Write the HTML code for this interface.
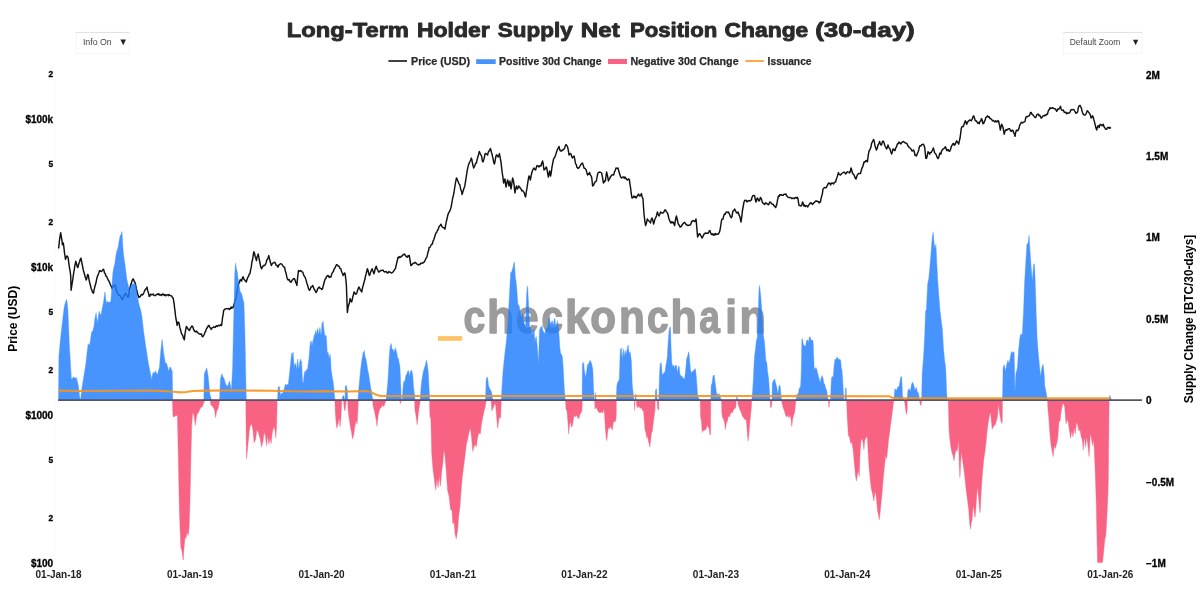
<!DOCTYPE html>
<html lang="en"><head><meta charset="utf-8"><title>Long-Term Holder Supply Net Position Change (30-day)</title>
<style>
html,body{margin:0;padding:0;background:#fff;}
body{width:1200px;height:605px;overflow:hidden;font-family:"Liberation Sans",sans-serif;}
svg{display:block;}
svg text{font-family:"Liberation Sans",sans-serif;}
</style></head><body>
<svg width="1200" height="605" viewBox="0 0 1200 605">
<defs><filter id="ga" x="-5%" y="-5%" width="110%" height="110%" color-interpolation-filters="sRGB"><feOffset dx="0" dy="0"/></filter></defs>
<rect x="0" y="0" width="1200" height="605" fill="#ffffff"/>

<g opacity="1" filter="url(#ga)"><rect x="438" y="336.1" width="24.2" height="4.7" fill="#ffc266"/>
<text transform="translate(463.61,333.3) scale(0.844,1)" font-size="46.5" font-weight="bold" fill="#9c9c9c" stroke="#9c9c9c" stroke-width="1.4" stroke-linejoin="round">c</text>
<text transform="translate(487.01,333.3) scale(0.951,1)" font-size="46.5" font-weight="bold" fill="#9c9c9c" stroke="#9c9c9c" stroke-width="1.4" stroke-linejoin="round">h</text>
<text transform="translate(515.89,333.3) scale(0.872,1)" font-size="46.5" font-weight="bold" fill="#9c9c9c" stroke="#9c9c9c" stroke-width="1.4" stroke-linejoin="round">e</text>
<text transform="translate(541.42,333.3) scale(0.832,1)" font-size="46.5" font-weight="bold" fill="#9c9c9c" stroke="#9c9c9c" stroke-width="1.4" stroke-linejoin="round">c</text>
<text transform="translate(565.01,333.3) scale(0.953,1)" font-size="46.5" font-weight="bold" fill="#9c9c9c" stroke="#9c9c9c" stroke-width="1.4" stroke-linejoin="round">k</text>
<text transform="translate(590.37,333.3) scale(0.908,1)" font-size="46.5" font-weight="bold" fill="#9c9c9c" stroke="#9c9c9c" stroke-width="1.4" stroke-linejoin="round">o</text>
<text transform="translate(619.10,333.3) scale(0.910,1)" font-size="46.5" font-weight="bold" fill="#9c9c9c" stroke="#9c9c9c" stroke-width="1.4" stroke-linejoin="round">n</text>
<text transform="translate(646.92,333.3) scale(0.832,1)" font-size="46.5" font-weight="bold" fill="#9c9c9c" stroke="#9c9c9c" stroke-width="1.4" stroke-linejoin="round">c</text>
<text transform="translate(670.56,333.3) scale(0.930,1)" font-size="46.5" font-weight="bold" fill="#9c9c9c" stroke="#9c9c9c" stroke-width="1.4" stroke-linejoin="round">h</text>
<text transform="translate(699.32,333.3) scale(0.797,1)" font-size="46.5" font-weight="bold" fill="#9c9c9c" stroke="#9c9c9c" stroke-width="1.4" stroke-linejoin="round">a</text>
<text transform="translate(725.30,333.3) scale(0.907,1)" font-size="46.5" font-weight="bold" fill="#9c9c9c" stroke="#9c9c9c" stroke-width="1.4" stroke-linejoin="round">i</text>
<text transform="translate(739.56,333.3) scale(0.930,1)" font-size="46.5" font-weight="bold" fill="#9c9c9c" stroke="#9c9c9c" stroke-width="1.4" stroke-linejoin="round">n</text>
</g>
<polyline points="58.7,247.9 59.5,240.0 60.1,236.0 60.7,232.8 61.5,238.0 62.0,240.7 62.4,244.8 62.8,244.2 63.3,243.0 63.9,247.1 64.5,253.0 65.0,256.2 65.5,259.3 66.2,257.4 66.8,256.0 67.5,256.2 68.2,258.2 68.8,263.1 69.5,268.0 70.1,271.0 70.7,275.8 71.1,290.2 71.9,285.0 72.7,280.0 73.5,274.1 74.2,270.0 75.0,264.8 75.8,261.3 76.3,263.0 76.8,265.0 77.3,266.9 77.9,267.5 78.7,264.0 79.5,262.0 80.2,259.5 81.0,258.2 81.8,262.4 82.5,266.0 83.3,270.2 84.1,272.7 84.7,275.0 85.2,277.0 85.7,278.3 86.2,280.0 86.7,279.0 87.2,276.0 87.7,274.5 88.2,274.8 89.0,279.6 89.8,283.0 90.5,285.7 91.3,289.2 91.8,289.9 92.4,292.0 92.9,291.9 93.4,293.3 94.2,289.3 95.0,286.0 95.8,283.6 96.5,280.0 97.2,276.9 98.0,275.0 98.8,273.0 99.6,270.6 100.2,271.2 100.9,270.9 101.5,271.5 102.4,270.4 103.3,269.2 103.9,270.2 104.5,273.0 105.2,273.5 105.8,275.8 106.5,276.3 107.3,278.0 108.1,279.9 108.9,281.0 109.7,282.9 110.5,285.0 111.2,286.2 112.0,288.2 112.8,287.3 113.5,286.0 114.3,285.5 115.1,285.1 115.8,287.6 116.6,291.0 117.4,293.3 118.2,294.4 118.9,295.3 119.5,295.0 120.2,296.0 120.9,297.3 121.6,298.4 122.3,299.5 123.0,298.5 123.8,296.0 124.6,295.1 125.4,293.3 126.2,294.2 127.0,296.0 127.8,297.2 128.5,296.4 129.0,292.4 129.5,290.0 130.1,287.4 130.6,285.1 131.3,283.6 132.0,281.0 132.7,279.3 133.3,278.9 133.9,280.4 134.5,282.0 135.1,282.6 135.7,285.1 136.4,288.9 137.2,292.0 138.0,295.3 138.8,297.5 139.5,296.8 140.3,296.6 141.0,295.0 141.7,294.4 142.3,295.0 143.0,294.4 143.7,293.1 144.3,291.6 145.0,290.0 145.7,288.9 146.4,288.7 147.1,287.1 147.6,290.4 148.2,292.0 148.7,294.1 149.2,296.4 149.9,296.1 150.5,294.3 151.2,294.5 151.9,294.7 152.6,294.5 153.3,294.0 154.0,295.5 154.8,295.6 155.5,295.5 156.2,294.6 156.8,294.3 157.5,294.0 158.2,294.7 158.8,293.7 159.5,295.0 160.2,295.1 160.9,294.6 161.6,295.4 162.3,294.3 162.9,293.9 163.6,294.5 164.3,295.5 165.0,294.6 165.7,295.8 166.4,295.0 167.0,294.9 167.7,294.8 168.4,295.7 169.1,294.4 169.8,295.4 170.7,295.6 171.5,296.0 172.4,297.3 173.3,298.5 173.8,302.0 174.2,304.0 174.6,308.1 175.0,310.9 175.5,315.7 176.0,319.0 176.6,321.8 177.1,325.4 177.6,323.5 178.1,322.0 178.6,322.4 179.1,323.3 179.8,327.4 180.6,330.0 181.4,333.3 182.2,334.7 182.8,335.7 183.3,338.0 183.8,338.3 184.3,339.8 184.8,335.4 185.3,332.0 185.9,328.7 186.4,326.4 187.2,327.7 188.0,329.0 188.8,329.9 189.5,330.5 190.2,328.5 191.0,327.5 191.8,326.0 192.6,326.4 193.1,327.8 193.6,329.5 194.1,330.3 194.6,331.6 195.3,331.5 195.9,332.1 196.6,331.0 197.3,332.2 197.9,332.7 198.6,333.5 199.3,333.9 200.1,334.2 200.8,334.0 201.5,334.0 202.2,336.6 202.9,336.7 203.6,335.7 204.3,334.3 205.0,332.0 205.7,331.3 206.3,329.1 207.0,328.0 207.7,326.9 208.4,325.5 209.1,325.4 209.6,327.0 210.2,328.0 210.7,327.9 211.2,329.5 211.9,328.0 212.5,327.6 213.2,327.5 213.9,326.8 214.6,327.1 215.3,327.4 216.0,326.2 216.6,325.8 217.3,326.5 218.0,325.6 218.7,325.2 219.4,325.8 220.1,325.4 220.8,324.6 221.5,325.4 222.0,322.4 222.5,318.0 223.1,314.7 223.6,310.9 224.3,309.6 224.9,309.1 225.6,309.0 226.3,308.6 227.0,308.6 227.7,308.8 228.6,308.4 229.5,309.5 230.2,308.9 231.0,307.0 231.6,308.3 232.3,307.5 232.9,307.8 233.7,305.4 234.5,303.0 235.2,299.9 236.0,298.5 236.5,294.5 237.0,292.0 237.5,288.7 238.0,286.1 238.5,284.1 239.0,283.0 239.6,282.1 240.1,279.9 240.8,279.8 241.6,281.0 242.4,277.9 243.2,276.8 243.9,279.3 244.7,280.0 245.5,281.1 246.3,282.0 247.2,278.8 248.0,277.0 248.7,276.0 249.3,273.9 250.0,273.7 250.6,269.9 251.3,266.9 251.9,262.0 252.6,259.3 253.2,255.5 253.9,251.7 254.6,253.6 255.2,256.5 255.8,258.3 256.5,260.6 256.9,257.6 257.4,256.0 257.8,255.5 258.2,254.0 259.0,258.1 259.8,262.0 260.6,266.0 261.5,268.8 262.4,267.1 263.2,266.0 264.0,265.2 264.8,265.5 265.5,264.3 266.1,262.8 266.8,260.0 267.5,259.2 268.1,257.7 268.8,255.6 269.5,258.9 270.1,261.0 270.8,263.7 271.4,265.5 272.2,263.7 273.0,263.0 273.9,262.6 274.7,262.2 275.5,263.6 276.3,265.5 277.1,265.4 278.0,267.2 278.8,264.9 279.6,264.5 280.5,263.8 281.3,263.9 282.1,264.5 283.0,266.0 283.8,267.0 284.6,267.2 285.3,271.0 286.0,273.0 286.6,275.8 287.3,278.8 288.2,280.0 289.2,279.5 289.9,281.3 290.5,282.1 291.2,282.1 292.0,280.5 292.8,279.5 293.6,278.6 294.5,278.8 295.1,280.1 295.7,282.5 296.3,283.3 296.9,285.4 297.3,280.6 297.7,277.0 298.1,274.0 298.5,270.5 299.2,271.3 299.9,271.2 300.6,270.5 301.3,271.0 302.1,271.9 302.8,272.1 303.6,274.9 304.5,276.5 305.3,277.6 306.1,280.4 306.9,283.3 307.7,285.5 308.5,288.7 309.4,290.3 310.2,289.2 311.0,287.0 311.9,286.7 312.7,285.4 313.5,287.4 314.3,289.5 315.1,290.4 316.0,292.6 316.8,291.4 317.6,289.0 318.5,287.7 319.3,287.0 320.1,288.4 321.0,288.5 321.8,289.5 322.6,288.7 323.3,285.6 324.0,283.0 324.6,280.7 325.3,278.8 325.9,278.5 326.5,276.5 327.1,276.4 327.6,275.5 328.4,275.8 329.2,277.5 330.0,276.6 330.9,277.1 331.7,274.1 332.5,272.5 333.4,271.5 334.2,268.8 335.0,268.0 335.8,266.0 336.6,264.7 337.5,264.9 338.4,266.4 339.2,266.5 340.0,268.6 340.8,268.8 341.4,271.0 342.0,272.5 342.6,273.7 343.1,275.5 343.6,274.6 344.1,273.5 344.6,272.9 345.1,273.8 345.8,279.0 346.4,285.4 346.9,300.0 347.4,312.5 348.0,307.8 348.7,305.0 349.4,302.7 350.1,298.6 350.9,301.0 351.3,301.7 351.7,301.9 352.3,299.3 352.9,296.5 353.4,295.1 354.0,292.0 354.6,292.6 355.2,293.5 355.8,294.3 356.4,293.6 357.0,292.5 357.7,290.0 358.4,287.9 359.0,287.0 359.6,288.0 360.3,290.0 361.0,290.6 361.7,292.0 362.5,288.0 363.3,285.0 364.1,282.1 365.0,278.8 365.6,275.7 366.2,273.5 366.8,271.0 367.3,268.8 367.9,269.9 368.5,272.5 369.1,274.8 369.6,275.5 370.2,273.2 370.9,271.5 371.5,270.1 372.2,268.8 372.6,270.3 373.1,271.5 373.9,273.8 374.4,272.5 375.0,269.5 375.6,267.7 376.2,266.2 376.9,268.7 377.5,269.5 378.1,270.8 378.8,272.1 379.6,271.4 380.5,270.5 381.3,270.5 382.1,270.5 382.9,270.0 383.8,271.4 384.6,272.0 385.4,271.6 386.3,271.5 387.1,272.8 387.9,273.1 388.8,271.6 389.6,272.0 390.4,272.2 391.3,273.0 392.1,272.8 393.0,272.0 393.8,271.0 394.6,269.6 395.4,268.8 396.0,265.9 396.7,263.0 397.4,260.3 398.0,257.3 398.7,257.9 399.3,256.6 400.0,257.5 400.7,257.2 401.3,256.2 402.0,256.3 402.6,255.0 403.3,254.5 404.0,254.8 404.6,254.0 405.2,255.0 405.8,256.0 406.4,256.8 406.9,257.3 407.5,256.9 408.1,255.5 408.7,256.4 409.3,255.6 409.7,258.2 410.1,261.0 410.9,265.5 411.6,265.1 412.3,264.2 413.0,263.5 413.7,263.1 414.5,263.0 415.2,262.2 416.0,263.0 416.8,264.0 417.6,264.5 418.5,264.9 419.3,264.2 420.2,264.5 421.0,263.0 421.8,263.1 422.7,263.2 423.5,262.2 424.4,262.0 425.2,260.0 426.0,258.2 426.8,257.3 427.4,254.8 428.0,252.0 428.6,250.6 429.1,247.4 429.9,247.4 430.7,246.0 431.5,244.3 432.4,244.0 433.0,241.2 433.7,240.0 434.4,237.8 435.0,235.8 435.8,233.3 436.6,232.5 437.5,230.3 438.3,229.2 439.0,226.7 439.6,226.0 440.3,225.4 441.0,224.2 441.7,225.9 442.3,227.2 443.0,227.5 443.9,227.7 444.9,229.2 445.5,226.0 446.2,222.0 446.9,219.3 447.6,216.0 448.4,213.3 449.2,212.0 450.0,210.6 450.9,207.7 451.4,205.8 452.0,202.0 452.6,198.5 453.2,196.1 454.0,192.5 454.8,187.0 455.6,182.2 456.5,177.9 457.3,179.7 458.1,181.5 459.0,184.0 459.8,184.5 460.4,187.9 461.0,190.0 461.6,191.6 462.1,194.5 462.8,192.1 463.4,190.0 464.1,188.1 464.8,186.2 465.6,180.8 466.4,176.0 467.2,170.6 468.1,166.4 468.9,163.8 469.7,162.0 470.5,160.5 471.4,158.1 471.9,159.8 472.5,163.5 473.1,165.9 473.7,168.0 474.4,166.4 475.0,165.0 475.7,163.1 476.4,163.1 477.1,159.7 477.8,157.0 478.6,154.5 479.3,151.5 480.1,153.3 481.0,155.0 481.7,156.5 482.3,160.6 483.0,162.0 483.7,159.9 484.3,157.6 485.0,154.0 485.9,153.5 486.7,154.2 487.6,155.0 488.3,152.1 489.0,151.0 489.7,150.3 490.4,148.4 490.9,150.0 491.4,152.5 491.9,153.5 492.4,156.0 492.9,158.1 493.4,160.5 493.9,163.1 494.4,164.0 494.9,162.1 495.4,159.0 495.9,156.5 496.4,155.0 497.2,155.3 498.0,157.0 498.7,156.1 499.4,153.6 500.2,157.9 501.0,162.0 501.7,168.4 502.4,174.0 503.0,177.7 503.6,183.0 504.3,180.1 505.0,179.0 505.5,183.4 506.0,187.0 506.8,183.4 507.6,180.0 508.3,182.1 509.0,186.0 509.5,184.4 510.0,181.0 510.5,185.3 511.0,189.0 511.8,184.1 512.6,178.0 513.3,180.2 514.0,184.0 514.5,189.2 515.0,193.0 515.7,188.6 516.4,186.0 517.0,188.2 517.6,189.0 518.1,187.4 518.6,186.0 519.4,186.7 520.2,188.1 521.0,189.0 521.9,190.9 522.7,190.5 523.6,192.0 524.3,192.9 524.9,195.4 525.6,197.0 526.3,192.0 527.0,188.0 527.7,183.2 528.3,179.3 529.0,176.0 529.7,177.1 530.4,180.0 531.2,175.4 532.0,172.0 532.7,170.3 533.3,168.9 534.0,168.0 534.8,169.5 535.6,170.0 536.3,167.4 537.0,165.6 537.7,166.1 538.3,165.9 539.0,167.0 539.7,166.4 540.3,165.4 541.0,166.0 541.8,163.0 542.6,161.0 543.3,164.5 544.0,170.0 544.8,169.5 545.6,168.1 546.4,167.0 547.1,169.7 547.7,173.6 548.4,177.0 549.0,174.9 549.6,171.0 550.1,172.7 550.6,176.0 551.3,172.1 552.0,167.0 552.8,162.9 553.6,159.0 554.3,157.7 554.9,157.0 555.6,155.0 556.3,152.8 556.9,151.0 557.6,149.0 558.3,148.1 559.0,146.4 559.7,149.7 560.4,151.0 561.1,150.4 561.7,151.0 562.4,150.0 563.2,149.9 564.0,149.0 564.7,147.8 565.3,145.9 566.0,144.6 566.8,145.5 567.6,147.0 568.3,150.1 569.0,155.0 569.7,153.9 570.3,153.5 571.0,154.0 571.7,156.5 572.4,158.0 573.2,156.5 574.0,156.0 574.8,159.3 575.6,164.0 576.3,164.5 576.9,167.3 577.6,168.0 578.3,168.4 578.9,167.7 579.6,167.0 580.5,165.2 581.5,163.8 582.4,163.0 583.2,165.1 584.0,168.0 584.8,168.4 585.6,169.0 586.3,170.3 586.9,172.9 587.6,175.0 588.3,173.7 588.9,174.2 589.6,172.4 590.3,174.9 590.9,175.6 591.6,177.0 592.1,181.0 592.6,186.0 593.5,185.4 594.4,183.0 595.1,182.0 595.7,181.4 596.4,181.0 597.2,176.0 598.0,173.0 598.7,172.4 599.3,172.3 600.0,172.0 600.8,172.5 601.6,173.0 602.5,177.4 603.4,183.0 604.1,182.3 604.7,180.7 605.4,181.0 606.0,176.0 606.6,172.0 607.5,175.7 608.4,181.0 609.2,179.3 610.0,178.0 610.7,176.1 611.4,176.0 612.1,174.7 612.9,174.9 613.6,175.0 614.4,172.1 615.2,170.5 616.0,168.0 616.7,168.1 617.3,168.5 618.0,168.0 618.7,170.6 619.3,173.1 620.0,175.0 620.8,177.3 621.6,178.0 622.3,177.4 622.9,177.0 623.6,177.0 624.3,178.3 624.9,177.0 625.6,178.0 626.3,179.1 626.9,179.6 627.6,180.0 628.5,178.9 629.4,179.6 630.0,184.5 630.6,188.0 631.3,193.8 632.0,198.0 632.7,197.6 633.3,197.1 634.0,196.0 634.7,197.3 635.3,196.6 636.0,198.0 636.9,196.7 637.7,195.3 638.6,194.0 639.3,195.7 640.0,196.0 640.7,195.4 641.4,193.6 642.2,197.0 643.0,199.0 643.5,206.7 644.0,214.0 644.8,220.6 645.6,225.6 646.5,222.7 647.4,219.0 648.2,220.4 649.0,221.0 649.7,221.5 650.4,223.0 651.2,219.6 652.0,218.0 652.8,220.3 653.6,224.0 654.3,221.7 654.9,219.2 655.6,218.0 656.5,215.7 657.4,212.0 658.2,214.1 659.0,216.0 659.8,214.3 660.6,212.0 661.4,212.6 662.2,213.0 663.0,213.0 663.9,212.0 664.7,210.0 665.6,210.0 666.3,211.6 666.9,212.5 667.6,213.0 668.3,216.0 669.0,219.0 669.7,220.4 670.3,222.0 671.0,223.0 671.7,221.8 672.3,222.8 673.0,222.0 673.8,223.3 674.6,225.6 675.5,219.9 676.4,216.0 677.2,219.0 678.0,223.0 678.7,224.8 679.3,225.1 680.0,227.0 680.7,226.8 681.3,226.6 682.0,225.0 682.8,224.1 683.6,223.0 684.4,222.4 685.3,223.2 686.1,224.5 687.0,225.0 688.0,225.5 689.0,225.2 690.0,225.0 690.9,224.0 691.7,221.5 692.6,221.0 693.3,220.5 693.9,220.9 694.6,221.6 695.3,220.8 696.0,219.0 696.5,224.1 697.0,230.0 697.6,237.0 698.3,235.6 699.0,234.0 699.7,233.7 700.3,234.5 701.0,236.0 701.5,236.5 702.0,238.0 702.7,237.0 703.3,235.7 704.0,234.0 704.7,234.0 705.3,232.9 706.0,233.0 706.7,233.2 707.3,233.2 708.0,233.4 708.7,232.4 709.3,230.8 710.0,230.6 710.8,233.4 711.6,234.6 712.4,233.8 713.2,235.2 714.0,234.0 714.7,235.1 715.3,233.4 716.0,234.6 717.0,234.0 718.0,234.2 719.0,233.0 719.7,231.4 720.4,228.0 721.0,223.9 721.6,220.0 722.3,219.0 723.0,219.0 723.7,215.9 724.4,214.0 725.3,214.2 726.1,212.1 727.0,212.0 727.7,212.5 728.3,212.0 729.0,213.0 729.8,215.0 730.6,217.0 731.3,217.7 732.0,216.6 732.5,213.1 733.0,211.0 733.8,210.6 734.6,209.0 735.5,210.8 736.4,212.6 737.2,213.1 738.0,212.0 738.8,214.4 739.6,216.0 740.3,218.5 741.0,222.0 741.7,217.3 742.4,211.0 743.2,206.5 744.0,202.0 744.8,200.3 745.6,200.6 746.3,200.3 747.0,202.0 747.7,201.3 748.4,200.6 749.2,200.7 750.0,201.0 750.7,200.1 751.4,200.0 752.0,197.3 752.6,196.0 753.3,195.6 753.9,195.4 754.6,195.6 755.3,199.5 756.0,202.0 756.8,199.0 757.6,198.0 758.3,200.0 759.0,201.0 759.7,199.9 760.4,197.4 761.2,198.4 762.0,201.0 762.7,202.9 763.3,203.4 764.0,204.0 764.7,204.5 765.3,202.9 766.0,203.0 766.7,203.3 767.3,203.9 768.0,204.6 768.7,204.7 769.3,203.0 770.0,202.0 770.7,202.4 771.3,203.2 772.0,204.0 772.7,204.2 773.3,204.4 774.0,206.0 774.8,206.0 775.6,207.6 776.3,206.0 777.0,203.0 777.7,199.1 778.4,196.0 779.1,196.5 779.7,194.8 780.4,195.0 781.3,194.7 782.1,195.3 783.0,195.4 784.0,194.3 785.0,194.2 786.0,194.0 786.5,195.9 787.0,196.0 788.0,197.2 789.0,197.6 790.0,197.4 791.0,197.9 792.0,198.6 793.0,198.0 794.0,198.7 795.0,197.7 796.0,197.4 796.7,198.2 797.3,197.3 798.0,198.6 798.5,202.5 799.0,205.4 799.9,205.4 800.7,206.0 801.6,205.6 802.1,204.1 802.6,202.0 803.3,203.6 804.0,206.0 804.7,205.0 805.3,206.6 806.0,205.6 806.8,205.6 807.6,207.0 808.3,205.9 808.9,204.7 809.6,204.0 810.3,202.9 811.0,202.6 811.7,203.5 812.3,204.5 813.0,204.0 813.7,202.7 814.3,202.7 815.0,201.6 815.7,201.0 816.3,201.3 817.0,201.0 817.7,201.5 818.3,201.7 819.0,203.0 819.7,201.8 820.4,202.0 821.2,197.9 822.0,195.0 822.5,192.8 823.0,189.0 823.7,188.5 824.3,187.5 825.0,187.6 825.7,187.9 826.3,187.5 827.0,186.0 827.7,184.9 828.3,183.3 829.0,183.0 829.8,183.4 830.6,185.0 831.3,183.2 832.0,183.0 832.8,183.2 833.6,184.0 834.3,182.5 834.9,182.1 835.6,182.0 836.3,179.2 837.0,177.4 837.7,175.1 838.4,172.6 839.1,174.2 839.7,174.7 840.4,175.0 841.1,174.2 841.7,173.5 842.4,173.0 843.2,172.5 844.0,172.0 844.8,172.8 845.6,174.0 846.4,173.0 847.2,171.8 848.0,172.0 848.8,172.1 849.6,173.0 850.3,171.4 851.0,168.0 851.7,169.8 852.4,173.0 853.2,174.0 854.0,175.0 854.7,176.6 855.3,178.4 856.0,179.0 856.7,176.8 857.3,175.2 858.0,174.0 858.8,173.4 859.6,173.5 860.4,173.6 861.2,170.7 862.0,168.0 862.7,166.9 863.3,164.7 864.0,162.0 864.8,162.2 865.6,161.0 866.5,160.5 867.4,162.0 868.2,155.6 869.0,151.0 869.8,149.9 870.6,148.0 871.1,146.5 871.6,143.4 872.3,142.0 872.9,140.9 873.6,139.4 874.3,141.7 875.0,146.0 875.7,147.8 876.4,150.0 877.2,148.4 878.0,145.0 878.8,143.9 879.6,141.4 880.3,143.9 881.0,145.0 881.7,144.6 882.3,141.8 883.0,141.0 883.7,141.9 884.3,143.6 885.0,146.0 885.8,147.5 886.6,149.0 887.3,147.4 888.0,145.0 888.7,147.2 889.3,148.1 890.0,149.0 890.8,151.8 891.6,154.0 892.3,152.0 893.0,149.0 893.7,149.4 894.3,150.2 895.0,150.6 895.7,147.8 896.3,147.4 897.0,145.0 897.7,143.5 898.3,143.8 899.0,142.0 899.7,143.0 900.3,142.9 901.0,144.0 901.9,142.4 902.7,141.8 903.6,141.4 904.3,142.2 904.9,142.9 905.6,143.0 906.4,143.2 907.2,144.1 908.0,146.0 908.7,146.7 909.3,147.5 910.0,148.0 910.7,148.8 911.3,149.4 912.0,151.0 912.8,150.7 913.6,150.0 914.3,151.7 915.0,155.4 915.7,155.3 916.4,156.0 917.2,153.9 918.0,152.0 918.8,149.9 919.6,146.0 920.3,145.9 921.0,145.9 921.7,144.7 922.5,144.4 923.3,144.2 924.0,145.3 924.7,147.5 925.2,152.4 925.8,158.3 926.4,158.4 927.0,156.7 927.5,154.6 928.0,151.7 928.9,152.6 929.7,154.2 930.5,152.4 931.3,152.5 932.0,151.0 932.6,149.8 933.3,148.0 934.0,150.3 934.7,153.0 935.5,153.5 936.3,155.0 937.1,157.2 938.0,158.7 938.9,156.9 939.7,153.3 940.2,153.2 940.8,154.2 941.6,151.0 942.5,149.7 943.4,148.7 944.2,148.3 944.9,147.3 945.5,146.7 946.2,149.1 947.0,150.8 947.6,149.6 948.3,149.7 949.0,151.1 949.7,151.3 950.5,149.5 951.3,146.7 952.1,145.2 953.0,143.7 953.7,143.4 954.3,145.3 955.0,144.7 955.9,142.4 956.7,140.8 957.4,142.6 958.0,142.5 958.7,144.2 959.4,140.7 960.0,138.3 960.6,133.8 961.3,128.3 961.9,126.9 962.5,126.3 963.1,126.7 963.8,125.3 964.5,123.0 965.3,120.8 966.0,121.9 966.7,124.2 967.5,122.2 968.3,121.3 969.1,120.5 970.0,120.0 970.7,120.2 971.3,120.7 972.0,119.7 972.9,117.0 973.7,115.8 974.5,118.1 975.3,120.8 976.1,120.7 977.0,121.7 977.7,123.3 978.5,122.4 979.2,123.8 980.0,121.4 980.8,120.8 981.2,118.9 981.7,118.7 982.4,121.0 983.0,123.8 983.9,123.1 984.7,120.8 985.2,119.9 985.8,117.5 986.6,117.1 987.5,115.8 988.4,117.2 989.2,116.7 990.0,118.6 990.8,118.7 991.6,119.4 992.5,120.8 993.4,120.4 994.2,121.3 995.0,121.9 995.8,120.8 996.5,121.7 997.2,121.7 998.0,120.6 998.7,121.3 999.2,123.9 999.7,125.8 1000.3,130.0 1001.0,126.9 1001.7,124.2 1002.4,125.6 1003.0,127.5 1003.6,130.5 1004.2,134.2 1004.8,131.8 1005.3,130.8 1006.0,129.6 1006.7,130.3 1007.4,129.3 1008.0,129.2 1008.9,128.7 1009.7,128.7 1010.5,130.9 1011.3,131.3 1012.1,130.1 1013.0,130.5 1013.6,132.8 1014.2,133.3 1015.0,136.3 1015.6,132.8 1016.3,130.5 1017.0,130.0 1017.6,130.8 1018.3,130.0 1019.0,128.3 1019.7,125.3 1020.2,124.2 1020.8,123.3 1021.6,122.2 1022.5,123.0 1023.2,122.5 1024.0,121.9 1024.7,121.7 1025.2,120.4 1025.8,117.5 1026.7,116.5 1027.5,116.7 1028.3,116.0 1029.2,115.8 1029.8,114.9 1030.5,112.5 1031.2,112.4 1032.0,114.2 1032.8,114.8 1033.7,115.8 1034.4,117.0 1035.1,117.5 1035.8,117.5 1036.7,114.9 1037.5,114.2 1038.3,114.1 1039.2,115.8 1039.8,115.2 1040.3,116.3 1041.0,118.0 1041.7,118.0 1042.5,116.4 1043.3,115.8 1044.2,115.9 1045.0,115.0 1045.8,115.5 1046.7,114.1 1047.5,114.2 1048.1,111.6 1048.7,110.0 1049.3,109.8 1050.0,107.8 1050.8,108.3 1051.7,108.3 1052.5,107.7 1053.3,108.0 1054.2,108.8 1055.0,108.7 1055.8,109.6 1056.7,111.3 1057.4,110.2 1058.0,108.9 1058.7,109.2 1059.6,108.2 1060.5,106.2 1061.2,109.1 1062.0,110.3 1062.7,110.4 1063.3,110.0 1064.2,112.1 1065.0,112.5 1065.8,112.2 1066.7,113.8 1067.4,113.0 1068.0,113.2 1068.7,113.0 1069.4,112.9 1070.1,111.9 1070.8,110.0 1071.7,109.6 1072.5,109.7 1073.3,109.4 1074.2,110.0 1075.0,111.5 1075.8,113.3 1076.5,112.9 1077.2,112.5 1077.8,110.9 1078.3,107.5 1079.2,105.8 1080.0,105.3 1080.7,107.0 1081.3,107.5 1081.9,110.5 1082.5,112.5 1083.3,114.4 1084.2,115.0 1085.0,115.1 1085.8,114.2 1086.5,112.7 1087.2,110.8 1088.0,111.3 1088.7,112.5 1089.3,113.0 1090.0,114.2 1090.6,115.8 1091.2,118.0 1091.8,117.5 1092.5,115.8 1093.1,116.7 1093.7,119.2 1094.3,121.1 1095.0,124.2 1095.8,127.6 1096.7,130.0 1097.3,127.4 1098.0,125.8 1098.6,125.8 1099.2,127.5 1099.8,124.9 1100.5,124.2 1101.2,125.1 1102.0,125.8 1102.7,124.7 1103.3,124.2 1104.0,126.8 1104.7,127.5 1105.5,129.1 1106.2,129.2 1106.8,129.3 1107.5,127.5 1108.3,127.4 1109.2,128.3 1109.8,127.3 1110.5,128.0" fill="none" stroke="#111" stroke-width="1.45" stroke-linejoin="round" stroke-linecap="round"/>
<line x1="55" y1="75" x2="55" y2="563" stroke="#fbfbfb" stroke-width="1"/>
<g opacity="0.82"><path d="M58.5 400.0 L58.9 355.9 L60.4 340.0 L61.9 326.1 L63.1 316.0 L64.3 306.8 L65.5 302.0 L66.7 299.3 L67.8 308.3 L68.6 326.0 L69.3 344.0 L70.4 362.0 L71.4 379.6 L72.6 378.0 L73.8 376.7 L75.0 378.5 L76.2 377.3 L77.3 381.0 L78.3 385.6 L79.0 391.0 L79.7 397.5 L80.6 400.0ZM80.6 400.0 L81.5 391.5 L82.4 385.0 L83.3 379.6 L84.5 372.0 L85.7 364.8 L86.9 354.0 L88.1 344.0 L89.1 345.5 L90.1 342.5 L90.9 337.0 L91.6 332.1 L92.8 331.0 L94.0 326.1 L95.0 318.0 L96.1 312.7 L96.9 319.0 L97.6 323.1 L98.4 316.0 L99.1 311.2 L100.1 314.5 L101.2 314.2 L102.3 308.0 L103.5 302.3 L104.3 296.0 L105.0 291.9 L105.8 299.0 L106.5 303.8 L107.5 301.0 L108.6 302.5 L109.8 302.0 L110.8 301.5 L111.3 295.0 L111.8 287.0 L112.3 280.0 L112.9 272.6 L113.7 268.0 L114.8 263.7 L115.7 257.0 L116.6 251.8 L117.5 249.5 L118.4 245.8 L119.3 240.0 L120.2 235.4 L121.1 234.5 L122.0 231.5 L122.6 242.0 L123.2 251.8 L124.0 258.0 L124.9 263.7 L125.8 271.0 L126.7 278.5 L127.7 283.0 L128.8 287.5 L129.5 288.5 L129.8 291.6 L130.4 291.6 L130.8 286.0 L131.6 284.6 L132.8 283.9 L134.3 283.6 L135.6 284.2 L136.3 288.0 L137.1 294.9 L138.1 300.0 L139.2 305.3 L140.4 309.0 L141.6 314.2 L142.7 323.0 L143.7 332.1 L144.7 339.0 L145.8 346.9 L147.0 354.0 L148.1 361.8 L149.3 368.0 L150.5 373.7 L151.7 379.6 L152.6 374.0 L153.5 372.2 L154.5 373.0 L155.6 370.7 L156.6 374.0 L157.7 373.7 L158.6 370.0 L159.4 367.8 L160.0 360.0 L160.6 352.9 L161.4 345.0 L162.1 339.5 L162.9 346.0 L163.6 352.9 L164.5 358.0 L165.4 363.3 L166.4 363.0 L167.5 366.3 L168.2 369.5 L169.0 370.7 L169.8 367.0 L170.7 367.2 L171.5 370.0 L172.2 370.7 L172.8 400.0ZM203.8 400.0 L204.3 373.7 L205.5 371.0 L206.7 367.8 L207.5 372.0 L208.2 376.7 L209.1 386.0 L210.0 394.5 L211.5 400.0ZM219.5 400.0 L220.4 379.6 L221.2 376.0 L221.9 373.7 L223.0 377.0 L224.0 378.2 L225.0 382.0 L226.1 385.6 L227.0 385.0 L227.8 387.1 L228.7 383.0 L229.6 381.2 L230.5 386.0 L231.4 390.1 L232.0 379.0 L232.6 367.8 L233.2 340.0 L233.8 314.2 L234.3 293.0 L234.7 275.6 L235.2 267.0 L235.6 263.1 L236.5 269.0 L237.4 272.6 L238.0 278.0 L238.6 281.5 L239.4 287.0 L240.3 291.9 L241.3 293.0 L242.4 296.4 L243.1 300.0 L243.9 302.3 L244.4 316.0 L244.8 329.1 L245.3 352.0 L245.7 373.7 L246.3 400.0ZM277.5 400.0 L278.2 386.8 L279.5 386.8 L280.4 395.5 L281.3 393.0 L282.2 393.8 L283.9 390.3 L285.3 384.2 L286.2 385.5 L287.0 384.2 L288.2 385.1 L288.8 380.0 L289.4 374.7 L290.0 369.0 L290.5 364.2 L291.1 358.0 L291.7 353.0 L292.4 355.0 L293.1 352.1 L293.7 360.0 L294.3 367.7 L295.0 364.0 L295.7 363.4 L296.2 367.0 L296.6 369.4 L297.2 363.0 L297.8 359.0 L298.3 365.0 L298.8 369.4 L299.6 363.0 L300.4 359.0 L301.0 361.5 L301.6 360.8 L302.1 372.0 L302.5 381.6 L303.3 383.3 L304.0 376.0 L304.7 371.2 L305.6 372.0 L306.5 369.4 L307.2 370.0 L307.8 367.7 L308.5 362.0 L309.1 357.3 L309.7 349.0 L310.3 341.7 L310.8 344.0 L311.3 340.8 L311.8 346.0 L312.2 345.1 L312.8 341.0 L313.4 339.9 L314.0 336.0 L314.6 334.7 L315.2 333.5 L315.7 330.4 L316.3 334.0 L316.9 332.1 L317.4 329.0 L317.9 328.6 L318.5 334.0 L319.0 333.0 L319.5 329.0 L320.0 327.4 L320.6 333.0 L321.2 334.7 L321.7 327.0 L322.1 322.6 L322.6 323.5 L323.1 321.2 L323.7 327.0 L324.2 331.3 L324.7 335.0 L325.2 336.5 L325.8 335.0 L326.4 337.3 L326.9 346.0 L327.3 353.8 L327.9 352.0 L328.5 354.7 L329.0 358.0 L329.4 357.3 L329.9 354.0 L330.4 356.4 L330.8 363.0 L331.1 369.4 L331.7 373.0 L332.2 376.4 L332.8 380.0 L333.4 383.3 L334.0 390.0 L334.6 397.2 L335.1 400.0ZM342.0 400.0 L342.6 396.4 L343.8 395.5 L344.7 400.0ZM345.0 400.0 L345.3 385.9 L346.4 385.4 L347.4 391.1 L347.8 400.0ZM358.0 400.0 L358.5 392.0 L359.0 387.0 L359.4 381.6 L360.0 376.0 L360.6 369.4 L361.3 364.0 L362.0 359.0 L362.6 356.0 L363.2 352.1 L363.8 353.0 L364.3 350.3 L364.7 354.0 L365.1 357.3 L365.8 358.0 L366.4 361.6 L367.0 365.0 L367.6 369.4 L368.3 372.0 L369.0 376.4 L369.7 381.0 L370.3 385.1 L371.0 389.0 L371.6 392.0 L372.8 400.0ZM386.0 400.0 L386.7 393.8 L387.2 389.0 L387.7 383.3 L388.2 376.0 L388.6 369.4 L389.0 361.0 L389.4 353.8 L389.9 349.0 L390.3 345.1 L390.8 345.5 L391.2 343.4 L391.8 348.0 L392.4 350.3 L393.0 349.0 L393.6 351.2 L394.2 352.0 L394.7 349.5 L395.2 350.0 L395.7 347.7 L396.2 351.0 L396.7 352.1 L397.3 356.0 L397.8 359.0 L398.3 358.0 L398.8 360.8 L399.4 364.0 L399.9 366.0 L400.3 374.0 L400.6 381.6 L400.9 389.0 L401.1 395.5 L401.6 400.0ZM402.3 400.0 L402.8 390.3 L403.3 385.0 L403.7 381.6 L404.4 382.0 L405.1 379.9 L405.7 376.0 L406.3 374.7 L406.9 374.0 L407.5 371.2 L408.0 372.5 L408.5 370.3 L409.2 374.0 L409.8 376.4 L410.2 372.0 L410.6 371.2 L411.2 371.5 L411.8 370.0 L412.3 373.0 L412.7 374.7 L413.1 380.0 L413.4 385.1 L413.9 390.0 L414.4 393.8 L415.1 400.0ZM420.2 400.0 L420.7 392.0 L421.2 386.0 L421.6 381.6 L422.2 378.0 L422.8 374.7 L423.4 371.0 L424.0 369.4 L424.7 367.0 L425.4 365.1 L426.0 362.0 L426.6 359.9 L427.1 363.0 L427.5 366.0 L427.9 369.0 L428.3 372.9 L428.7 380.0 L429.0 386.8 L429.7 400.0ZM485.5 400.0 L486.2 378.9 L487.4 376.9 L488.0 381.0 L488.7 386.4 L489.5 388.0 L490.4 390.1 L491.2 391.0 L491.9 393.8 L492.9 400.0ZM501.3 400.0 L502.3 381.4 L502.9 373.0 L503.5 366.5 L504.2 360.0 L504.8 354.1 L505.4 349.0 L506.0 344.2 L506.9 335.0 L507.8 324.4 L508.5 312.0 L509.2 299.6 L509.9 286.0 L510.7 272.3 L511.4 272.5 L512.2 269.9 L512.9 268.0 L513.7 263.7 L514.4 261.9 L514.9 270.0 L515.4 277.3 L516.0 281.0 L516.7 287.2 L517.3 296.0 L517.9 304.6 L518.8 305.0 L519.7 308.3 L520.4 313.0 L521.1 317.0 L521.8 316.0 L522.6 313.2 L523.3 319.0 L524.1 324.4 L524.8 324.0 L525.6 326.9 L526.1 310.0 L526.6 294.7 L527.1 288.0 L527.6 286.0 L528.1 295.0 L528.6 304.6 L529.1 316.0 L529.6 326.9 L530.4 327.0 L531.3 330.6 L531.9 333.5 L532.5 334.3 L533.2 330.0 L534.0 329.3 L534.5 336.0 L535.0 341.7 L535.6 338.0 L536.3 336.8 L536.9 343.0 L537.5 349.2 L538.0 356.0 L538.5 364.0 L539.0 346.0 L539.5 329.3 L540.1 329.5 L540.7 326.9 L541.3 328.0 L542.0 325.6 L542.7 330.0 L543.4 331.8 L544.1 332.0 L544.9 334.3 L545.6 330.0 L546.4 328.1 L547.1 328.5 L547.9 325.6 L548.6 320.0 L549.4 317.0 L550.1 321.5 L550.9 324.4 L551.6 321.5 L552.4 320.7 L553.0 324.0 L553.6 324.4 L554.2 320.0 L554.8 318.2 L555.5 324.0 L556.3 329.3 L556.9 324.0 L557.6 320.7 L558.2 326.0 L558.8 331.8 L559.3 339.0 L559.8 346.7 L560.3 351.0 L560.8 354.1 L561.5 354.5 L562.3 356.6 L562.8 362.0 L563.3 369.0 L563.8 379.0 L564.3 388.8 L565.3 400.0ZM582.1 400.0 L582.4 364.0 L583.0 362.5 L583.6 362.8 L584.1 368.0 L584.6 371.5 L585.1 375.0 L585.6 377.7 L586.1 374.0 L586.6 371.5 L587.2 367.0 L587.8 364.0 L588.4 364.5 L589.0 362.8 L589.6 361.0 L590.3 360.3 L590.9 362.5 L591.5 362.8 L592.1 366.0 L592.8 369.0 L593.2 379.0 L593.5 388.8 L594.5 400.0ZM595.2 400.0 L595.7 392.5 L596.2 400.0ZM616.3 400.0 L616.8 386.4 L617.4 383.0 L618.0 381.4 L618.7 381.0 L619.3 378.9 L619.8 364.0 L620.3 349.2 L620.8 349.5 L621.3 347.9 L621.8 354.0 L622.3 359.1 L622.8 353.0 L623.2 348.7 L623.7 353.0 L624.2 356.6 L624.7 353.0 L625.2 350.4 L625.7 353.0 L626.2 354.1 L626.7 351.0 L627.2 349.2 L627.7 346.5 L628.2 345.0 L628.7 350.0 L629.2 354.1 L629.8 352.0 L630.4 352.9 L630.9 357.0 L631.4 361.6 L631.8 372.0 L632.2 383.9 L632.7 389.0 L633.2 393.8 L634.1 400.0ZM635.1 400.0 L635.6 393.8 L636.4 400.0ZM655.0 400.0 L655.5 390.1 L656.5 388.8 L657.2 400.0ZM658.9 400.0 L659.4 376.4 L659.9 368.0 L660.4 362.8 L661.0 363.4 L661.4 363.4 L661.8 369.0 L662.1 374.7 L662.8 374.0 L663.5 373.8 L664.2 372.0 L664.9 372.9 L665.5 368.0 L666.1 364.2 L666.7 361.0 L667.3 357.3 L667.8 348.0 L668.3 339.9 L668.9 333.0 L669.5 327.8 L670.4 326.9 L670.8 338.0 L671.1 348.6 L671.5 356.0 L671.8 362.5 L672.3 365.0 L672.7 366.8 L673.1 365.5 L673.5 365.1 L674.0 367.5 L674.4 368.6 L674.9 366.0 L675.3 365.1 L675.9 366.0 L676.5 365.6 L677.0 370.0 L677.4 372.9 L677.8 370.0 L678.2 367.7 L678.7 366.0 L679.1 366.0 L679.6 371.0 L680.0 374.7 L680.6 375.0 L681.2 376.4 L681.9 376.0 L682.6 377.3 L683.3 378.0 L684.0 379.0 L684.8 378.1 L685.3 373.0 L685.7 369.4 L686.2 364.0 L686.6 359.0 L687.2 357.0 L687.8 355.6 L688.3 353.0 L688.8 351.7 L689.2 355.0 L689.5 359.0 L690.0 364.0 L690.4 369.4 L690.9 371.5 L691.3 372.9 L691.8 372.0 L692.3 372.0 L692.8 371.0 L693.3 371.2 L693.9 370.0 L694.4 369.4 L694.9 369.5 L695.4 368.6 L695.8 372.0 L696.1 374.7 L696.5 379.0 L696.8 383.3 L697.2 389.0 L697.5 393.8 L698.0 396.0 L698.5 398.1 L700.3 400.0ZM710.7 400.0 L711.2 385.1 L711.7 384.0 L712.1 383.3 L712.6 379.0 L713.1 375.5 L713.7 375.5 L714.2 375.0 L714.6 378.0 L715.0 381.6 L715.5 385.0 L715.9 388.5 L716.4 392.0 L716.9 394.6 L717.6 394.3 L718.2 394.6 L718.6 394.0 L719.0 393.4 L719.5 395.0 L719.9 396.4 L720.5 398.0 L721.1 399.0 L721.6 400.0ZM736.2 400.0 L736.9 396.4 L737.8 400.0ZM751.7 400.0 L752.4 393.8 L752.8 388.0 L753.1 383.3 L753.5 376.0 L753.8 369.4 L754.2 362.0 L754.6 355.6 L755.1 352.0 L755.5 348.6 L756.0 344.0 L756.4 339.9 L756.8 339.5 L757.2 338.2 L757.6 332.0 L757.9 326.0 L758.2 317.0 L758.4 308.7 L758.8 293.5 L759.2 288.0 L759.6 285.4 L760.2 291.0 L760.8 296.4 L761.4 305.0 L762.0 314.3 L762.4 320.0 L763.0 331.3 L763.4 335.0 L763.8 338.2 L764.2 340.0 L764.5 341.7 L764.9 347.0 L765.2 352.1 L765.6 357.0 L765.9 360.8 L766.4 361.5 L766.8 362.5 L767.2 367.0 L767.6 371.2 L768.1 375.0 L768.5 378.1 L769.0 384.0 L769.4 390.3 L770.1 400.0ZM772.0 400.0 L772.3 383.3 L772.9 382.0 L773.4 380.7 L774.0 379.5 L774.6 379.0 L775.1 381.0 L775.6 382.5 L776.2 385.0 L776.7 386.8 L777.2 390.0 L777.7 393.8 L778.1 392.0 L778.4 390.3 L778.9 387.0 L779.3 385.1 L779.7 385.5 L780.1 385.9 L780.5 390.0 L780.8 393.8 L781.5 400.0ZM796.0 400.0 L796.8 394.6 L797.6 394.0 L798.4 393.8 L798.8 391.0 L799.2 388.5 L799.9 387.5 L800.6 386.8 L801.0 378.0 L801.3 369.4 L801.6 354.0 L801.8 339.9 L802.1 339.0 L802.4 338.5 L802.9 342.0 L803.4 345.1 L803.9 345.0 L804.4 345.5 L805.0 346.0 L805.5 346.9 L806.0 343.5 L806.5 340.8 L807.1 340.0 L807.6 339.9 L808.1 341.0 L808.6 341.7 L809.0 339.0 L809.3 337.3 L809.8 337.0 L810.3 336.8 L810.7 339.0 L811.0 340.8 L811.6 340.0 L812.1 339.9 L812.6 340.3 L813.0 340.8 L813.3 346.0 L813.5 352.1 L813.9 361.0 L814.2 369.4 L814.6 369.0 L815.0 368.6 L815.5 368.0 L815.9 367.4 L816.4 368.5 L816.8 369.4 L817.2 371.0 L817.6 372.9 L818.1 374.5 L818.5 376.4 L819.0 378.0 L819.4 379.9 L819.8 381.0 L820.2 382.5 L820.7 380.0 L821.1 378.1 L821.7 376.5 L822.2 375.5 L822.6 377.0 L823.0 378.1 L823.5 381.0 L823.9 383.3 L824.4 384.0 L824.9 385.1 L825.4 387.0 L825.8 388.5 L826.3 389.5 L826.7 390.3 L827.1 393.0 L827.5 396.4 L828.4 400.0ZM830.5 400.0 L831.0 386.8 L831.3 382.0 L831.5 378.1 L832.0 377.0 L832.4 376.4 L832.9 377.0 L833.3 377.3 L833.7 371.0 L834.1 366.0 L834.6 362.0 L835.0 359.0 L835.5 359.5 L835.9 359.9 L836.3 358.5 L836.7 357.6 L837.2 357.5 L837.6 357.3 L838.1 358.5 L838.5 359.9 L838.9 359.5 L839.3 359.0 L840.0 359.5 L840.6 359.9 L841.0 364.0 L841.3 367.7 L841.6 368.5 L841.9 369.4 L842.3 374.0 L842.6 378.1 L843.0 385.0 L843.3 392.0 L844.0 400.0ZM845.1 400.0 L845.4 388.5 L846.1 387.7 L846.6 400.0ZM893.9 400.0 L894.8 388.7 L895.7 389.5 L896.6 390.2 L897.2 388.5 L897.8 387.2 L898.6 386.5 L899.3 385.8 L900.0 381.0 L900.8 376.8 L901.7 376.8 L902.1 386.0 L902.5 394.7 L903.4 400.0ZM907.3 400.0 L907.9 390.2 L908.5 389.5 L909.1 388.7 L909.7 390.0 L910.3 391.7 L910.9 388.0 L911.5 384.3 L912.1 383.0 L912.7 382.2 L913.3 384.0 L913.9 385.8 L914.5 388.0 L915.1 390.2 L915.7 388.5 L916.2 387.2 L916.8 389.5 L917.4 391.7 L918.0 392.5 L918.6 393.2 L919.5 400.0ZM921.6 400.0 L922.2 373.9 L922.8 366.0 L923.4 359.0 L924.0 349.0 L924.6 338.1 L925.1 324.0 L925.5 311.3 L926.0 310.5 L926.4 309.8 L927.0 297.0 L927.6 284.5 L928.2 281.0 L928.8 278.6 L929.4 272.0 L929.9 266.7 L930.5 259.0 L931.1 251.8 L931.7 244.0 L932.3 236.9 L932.8 234.0 L933.2 232.4 L933.7 238.0 L934.1 242.9 L934.6 246.0 L935.0 248.8 L935.5 246.0 L935.9 244.4 L936.4 254.0 L936.8 263.7 L937.3 272.0 L937.7 280.1 L938.3 288.0 L938.9 296.4 L939.5 304.0 L940.1 311.3 L940.7 316.0 L941.2 320.3 L941.8 325.0 L942.4 329.2 L943.0 340.0 L943.6 350.0 L944.2 356.0 L944.8 361.9 L945.3 365.0 L945.7 367.9 L946.2 380.0 L946.6 391.7 L947.2 400.0ZM1002.5 400.0 L1003.1 367.9 L1003.7 366.0 L1004.3 364.9 L1004.9 368.0 L1005.5 370.9 L1006.1 368.0 L1006.7 364.9 L1007.3 362.5 L1007.9 360.5 L1008.5 362.0 L1009.1 363.4 L1009.7 360.0 L1010.3 357.5 L1010.9 354.0 L1011.5 351.5 L1012.2 352.5 L1012.9 353.0 L1013.5 352.0 L1014.1 351.5 L1014.6 372.0 L1015.0 391.7 L1015.5 382.0 L1015.9 373.9 L1016.7 370.5 L1017.4 367.9 L1018.0 359.0 L1018.6 350.0 L1019.2 344.0 L1019.8 338.1 L1020.4 335.5 L1021.0 333.7 L1021.6 334.5 L1022.2 335.2 L1022.8 325.0 L1023.4 314.3 L1024.0 299.0 L1024.5 284.5 L1025.1 274.0 L1025.7 263.7 L1026.3 254.0 L1026.9 244.4 L1027.5 243.5 L1028.1 242.9 L1028.6 239.0 L1029.0 235.4 L1029.5 242.0 L1029.9 248.8 L1030.5 258.0 L1031.1 266.7 L1031.7 274.0 L1032.3 281.6 L1032.9 273.0 L1033.5 265.2 L1034.0 264.0 L1034.4 263.7 L1034.9 274.0 L1035.3 284.5 L1035.8 299.0 L1036.2 314.3 L1036.7 326.0 L1037.1 338.1 L1037.7 346.0 L1038.2 353.0 L1038.8 359.0 L1039.4 364.9 L1040.0 371.0 L1040.6 376.8 L1041.2 372.0 L1041.8 367.9 L1042.4 366.0 L1043.0 364.3 L1043.5 367.5 L1043.9 370.9 L1044.4 378.0 L1044.8 385.8 L1045.4 389.0 L1046.0 391.7 L1047.5 400.0ZM1109.1 400.0 L1109.7 395.3 L1110.9 398.3 L1111.5 400.0Z" fill="#207dff" stroke="#207dff" stroke-width="0.4"/></g>
<path d="M172.4 400.0 L173.0 416.7 L174.5 416.7 L175.9 415.3 L177.4 415.8 L177.8 434.0 L178.2 452.9 L178.8 482.0 L179.4 510.8 L180.1 530.0 L180.8 547.0 L181.4 549.0 L182.0 551.3 L182.6 556.0 L183.2 560.0 L183.6 554.0 L184.0 548.4 L184.6 542.0 L185.2 536.8 L185.6 537.5 L186.0 538.3 L186.6 535.0 L187.2 532.5 L187.8 534.0 L188.4 535.4 L188.8 530.0 L189.2 525.2 L189.7 511.0 L190.1 496.3 L190.6 474.0 L191.0 452.9 L191.4 438.0 L191.8 423.9 L192.3 417.0 L192.7 412.4 L193.3 413.5 L193.9 415.3 L194.6 420.0 L195.3 425.4 L196.0 420.0 L196.8 415.3 L197.6 413.5 L198.5 412.4 L199.5 410.0 L200.5 408.0 L201.5 407.0 L202.5 406.6 L203.3 404.0 L204.0 402.2 L204.9 400.0ZM210.1 400.0 L210.9 405.1 L211.8 405.8 L212.7 406.6 L213.5 408.0 L214.4 409.5 L215.0 413.5 L215.6 417.6 L216.2 414.0 L216.7 410.9 L217.3 410.0 L217.9 409.5 L218.5 406.5 L219.0 403.7 L219.6 400.0ZM245.8 400.0 L246.0 420.0 L246.2 438.4 L246.5 458.7 L247.0 454.0 L247.5 450.0 L248.0 444.0 L248.6 438.4 L249.2 432.0 L249.9 426.8 L250.7 425.0 L251.5 423.9 L252.2 426.5 L252.9 429.7 L253.5 436.0 L254.1 442.8 L254.8 441.0 L255.5 439.9 L256.2 434.5 L257.0 429.7 L257.7 431.0 L258.4 432.6 L259.2 435.5 L260.1 438.4 L260.8 442.5 L261.6 447.1 L262.3 444.0 L263.0 441.3 L263.6 436.5 L264.2 432.6 L264.8 434.0 L265.4 435.5 L266.0 441.0 L266.5 445.7 L267.1 440.0 L267.7 435.5 L268.3 440.0 L268.8 444.2 L269.4 441.0 L270.0 438.4 L270.6 441.0 L271.1 443.6 L271.7 438.0 L272.3 432.6 L273.0 429.5 L273.7 426.8 L274.3 428.0 L274.9 429.7 L275.4 434.0 L275.8 437.8 L276.2 432.0 L276.6 426.8 L277.2 400.0ZM334.9 400.0 L335.3 412.4 L336.0 421.0 L336.8 428.3 L337.4 426.0 L338.0 423.9 L338.6 421.0 L339.2 418.2 L339.6 422.5 L340.0 426.8 L340.5 422.0 L340.9 418.2 L341.8 400.0ZM343.5 400.0 L344.1 408.0 L345.0 410.9 L345.8 403.7 L346.4 400.0ZM347.6 400.0 L348.1 409.5 L348.7 415.0 L349.3 419.6 L349.9 423.5 L350.4 426.8 L351.0 430.0 L351.6 432.6 L352.0 436.0 L352.5 439.0 L353.0 437.0 L353.6 435.5 L354.2 431.0 L354.8 426.8 L355.4 423.9 L355.9 421.0 L356.4 421.0 L357.1 423.9 L357.5 419.0 L357.9 409.5 L358.4 400.0ZM372.6 400.0 L373.2 406.6 L374.0 409.5 L374.7 412.4 L375.4 416.0 L376.1 419.6 L376.6 423.0 L377.0 426.3 L377.6 420.5 L378.2 415.3 L378.9 412.0 L379.6 409.5 L380.3 408.5 L381.0 408.0 L381.8 406.5 L382.5 405.1 L383.2 406.0 L383.9 406.6 L384.7 404.0 L385.4 402.2 L386.3 400.0ZM399.6 400.0 L400.4 403.7 L401.2 400.0ZM414.6 400.0 L414.9 409.5 L415.5 413.0 L416.1 416.7 L416.7 421.0 L417.2 424.8 L417.7 420.0 L418.1 415.3 L418.7 411.0 L419.3 406.6 L420.4 400.0ZM429.5 400.0 L429.9 416.7 L430.8 418.2 L431.3 436.0 L431.7 452.9 L432.4 462.0 L433.1 470.3 L433.9 476.0 L434.6 481.8 L435.2 486.0 L435.8 489.9 L436.4 484.0 L436.9 478.9 L437.5 483.0 L438.1 487.6 L438.7 481.5 L439.2 476.0 L439.8 481.0 L440.4 486.2 L441.0 479.5 L441.5 473.1 L442.1 468.5 L442.7 464.5 L443.3 457.0 L443.9 450.0 L444.5 453.0 L445.0 455.8 L445.6 463.0 L446.2 470.3 L446.9 480.5 L447.6 490.5 L448.4 493.5 L449.1 496.3 L449.8 503.0 L450.5 509.3 L451.3 510.0 L452.0 510.8 L452.4 517.5 L452.8 523.8 L453.4 523.0 L454.0 522.3 L454.6 528.0 L455.1 533.9 L455.7 536.5 L456.3 538.8 L456.9 535.0 L457.5 531.0 L458.1 524.0 L458.6 516.6 L459.2 512.0 L459.8 507.9 L460.4 500.5 L460.9 493.4 L461.5 486.0 L462.1 478.9 L462.8 473.0 L463.5 467.4 L464.3 461.5 L465.0 455.8 L465.7 450.0 L466.4 444.2 L467.2 441.0 L467.9 438.4 L468.6 434.5 L469.3 431.2 L469.9 429.5 L470.5 428.3 L471.1 433.5 L471.6 438.4 L472.2 445.0 L472.8 451.4 L473.4 449.0 L474.0 447.1 L474.6 445.5 L475.1 444.2 L475.7 445.5 L476.3 447.1 L476.9 442.5 L477.4 438.4 L478.2 435.5 L478.9 432.6 L479.6 433.5 L480.3 434.1 L480.9 429.0 L481.5 423.9 L482.1 421.0 L482.6 418.2 L483.2 415.0 L483.8 412.4 L484.5 409.5 L485.2 406.6 L486.4 400.0ZM491.0 400.0 L491.9 410.9 L492.5 409.5 L493.1 408.0 L493.7 406.5 L494.2 405.1 L494.8 404.5 L495.4 403.7 L496.0 409.5 L496.5 415.3 L497.1 422.0 L497.7 428.3 L498.3 424.0 L498.8 419.6 L499.3 418.0 L499.7 416.7 L500.2 417.5 L500.6 418.2 L501.3 400.0ZM565.4 400.0 L566.0 409.0 L566.5 410.0 L567.0 411.0 L567.5 417.0 L568.0 423.0 L568.3 428.5 L568.6 434.0 L569.1 429.5 L569.6 425.0 L570.1 423.0 L570.6 421.0 L571.0 424.0 L571.4 427.0 L571.9 426.5 L572.4 426.0 L572.9 422.5 L573.4 419.0 L573.9 417.0 L574.4 415.0 L574.9 416.0 L575.4 417.0 L576.0 416.0 L576.6 415.0 L577.2 416.5 L577.8 418.0 L578.4 418.3 L579.0 418.6 L579.5 416.0 L580.0 414.0 L580.5 413.5 L581.0 413.0 L581.5 411.5 L582.0 410.0 L582.3 400.0ZM594.6 400.0 L595.0 409.0 L595.7 408.0 L596.4 407.0 L596.9 408.5 L597.4 410.0 L598.0 411.0 L598.6 412.0 L599.3 412.5 L600.0 413.0 L600.7 412.5 L601.4 412.0 L602.0 412.5 L602.6 413.0 L603.2 411.0 L603.8 409.0 L604.2 412.0 L604.6 415.0 L605.0 422.0 L605.4 429.0 L605.8 433.5 L606.2 438.0 L606.5 439.5 L606.8 440.6 L607.2 437.0 L607.6 433.0 L608.0 430.0 L608.4 427.0 L608.9 428.0 L609.4 429.0 L609.9 427.5 L610.4 426.0 L610.9 427.0 L611.4 428.0 L611.9 429.0 L612.4 430.0 L612.8 426.5 L613.2 423.0 L613.7 422.0 L614.2 421.0 L614.7 421.5 L615.2 422.0 L615.6 420.5 L616.0 419.0 L616.3 413.0 L616.3 400.0ZM634.3 400.0 L634.4 405.0 L634.6 410.6 L634.9 407.0 L635.1 400.0ZM636.4 400.0 L636.6 405.0 L637.2 406.5 L637.8 408.0 L638.4 407.0 L639.0 406.0 L639.6 407.3 L640.2 408.6 L640.8 408.0 L641.4 407.4 L642.0 409.0 L642.6 411.0 L643.0 410.5 L643.4 410.0 L643.8 414.5 L644.2 419.0 L644.6 424.5 L645.0 430.0 L645.5 431.5 L646.0 433.0 L646.4 435.5 L646.8 438.0 L647.2 437.0 L647.6 436.0 L648.0 438.5 L648.4 441.0 L648.8 442.5 L649.2 444.0 L649.5 445.5 L649.8 447.0 L650.2 444.0 L650.6 441.0 L651.0 437.0 L651.4 433.0 L651.8 432.5 L652.2 432.0 L652.6 428.5 L653.0 425.0 L653.4 422.0 L653.8 419.0 L654.2 416.0 L654.6 413.0 L655.0 409.0 L655.3 400.0ZM657.2 400.0 L657.4 408.0 L657.9 409.0 L658.4 410.0 L658.7 410.3 L658.9 400.0ZM700.2 400.0 L700.4 407.0 L700.6 417.0 L701.0 419.0 L701.4 421.0 L701.8 427.0 L702.2 432.6 L702.6 431.0 L703.0 430.0 L703.5 430.5 L704.0 431.0 L704.5 430.0 L705.0 429.0 L705.5 429.5 L706.0 430.0 L706.5 427.5 L707.0 425.0 L707.5 426.0 L708.0 427.0 L708.5 427.5 L709.0 428.0 L709.4 431.0 L709.8 434.0 L710.2 434.5 L710.6 435.0 L710.7 400.0ZM721.6 400.0 L721.8 413.0 L722.2 415.5 L722.6 418.0 L723.1 418.5 L723.6 419.0 L724.1 421.0 L724.6 423.0 L725.0 426.5 L725.4 429.6 L725.9 426.0 L726.4 423.0 L726.9 422.0 L727.4 421.0 L727.9 418.5 L728.4 416.0 L728.9 416.5 L729.4 417.0 L729.9 415.5 L730.4 414.0 L730.9 413.0 L731.4 412.0 L731.9 412.5 L732.4 413.0 L732.9 411.5 L733.4 410.0 L733.9 409.5 L734.4 409.0 L734.9 408.5 L735.4 408.0 L735.9 406.5 L736.2 400.0ZM737.8 400.0 L738.0 404.0 L738.5 405.5 L739.0 407.0 L739.5 408.5 L740.0 410.0 L740.5 411.0 L741.0 412.0 L741.5 413.5 L742.0 415.0 L742.5 416.0 L743.0 417.0 L743.5 417.5 L744.0 418.0 L744.5 419.0 L745.0 420.0 L745.5 419.5 L746.0 419.0 L746.4 422.0 L746.8 425.0 L747.2 431.0 L747.6 437.0 L747.9 439.0 L748.2 441.0 L748.6 437.0 L749.0 433.0 L749.4 428.0 L749.8 423.0 L750.2 419.0 L750.6 415.0 L751.0 411.0 L751.4 407.0 L751.7 400.0ZM770.1 400.0 L770.3 404.0 L770.6 408.0 L771.1 407.0 L771.6 406.0 L772.0 400.0ZM781.5 400.0 L782.0 403.0 L782.5 405.0 L783.0 407.0 L783.5 408.5 L784.0 410.0 L784.5 411.5 L785.0 413.0 L785.5 414.5 L786.0 416.0 L786.5 416.5 L787.0 417.0 L787.5 416.0 L788.0 415.0 L788.5 416.5 L789.0 418.0 L789.5 416.5 L790.0 415.0 L790.5 417.0 L791.0 419.0 L791.4 423.0 L791.8 426.6 L792.2 423.0 L792.6 419.0 L793.1 417.0 L793.6 415.0 L794.1 414.0 L794.6 413.0 L795.2 407.0 L796.0 400.0ZM828.4 400.0 L828.9 407.6 L829.8 400.0 L830.5 400.0ZM846.5 400.0 L846.9 408.0 L847.2 416.5 L847.8 426.0 L848.4 435.3 L849.0 436.5 L849.6 437.6 L850.2 440.5 L850.7 443.5 L851.3 443.0 L851.9 442.3 L852.5 446.0 L853.1 449.4 L853.7 456.0 L854.3 463.4 L854.9 469.0 L855.4 475.2 L855.9 478.0 L856.4 481.0 L856.9 478.0 L857.3 475.2 L857.8 473.0 L858.3 470.5 L858.8 473.5 L859.2 476.4 L859.7 464.0 L860.1 451.7 L860.6 446.0 L861.1 440.0 L861.6 439.5 L862.0 438.8 L862.5 440.5 L863.0 442.3 L863.5 446.0 L863.9 449.4 L864.4 444.5 L864.8 440.0 L865.4 439.0 L866.0 437.6 L866.6 437.0 L867.2 436.4 L867.7 444.0 L868.1 451.7 L868.6 460.0 L869.1 468.1 L869.7 474.0 L870.2 479.9 L870.8 484.5 L871.4 489.3 L872.0 491.5 L872.6 494.0 L873.2 497.5 L873.8 501.0 L874.3 497.5 L874.7 494.0 L875.2 493.0 L875.6 491.6 L876.1 496.0 L876.6 501.0 L877.1 505.5 L877.5 510.4 L878.0 513.0 L878.5 515.1 L878.9 517.5 L879.2 519.8 L879.7 516.0 L880.1 512.7 L880.6 508.0 L881.0 503.4 L881.5 498.5 L882.0 494.0 L882.5 488.0 L882.9 482.2 L883.4 477.5 L883.8 472.8 L884.3 468.0 L884.8 463.4 L885.3 459.0 L885.7 455.2 L886.2 457.0 L886.7 458.7 L887.2 454.0 L887.6 449.4 L888.1 444.5 L888.5 440.0 L889.0 436.5 L889.5 432.9 L890.0 429.5 L890.4 425.9 L890.9 422.5 L891.4 418.8 L891.9 415.0 L892.3 411.8 L892.8 408.0 L893.2 404.7 L893.9 400.0ZM904.3 400.0 L905.0 404.7 L905.5 408.0 L905.9 411.8 L906.3 413.5 L906.6 414.6 L907.0 411.0 L907.3 407.1 L907.3 400.0ZM919.5 400.0 L920.2 404.2 L921.0 405.5 L921.6 400.0ZM948.3 400.0 L948.5 408.0 L948.7 416.5 L948.9 426.0 L949.4 435.3 L950.0 440.0 L950.5 444.7 L951.1 448.5 L951.7 451.7 L952.3 453.5 L952.9 455.2 L953.5 458.0 L954.1 460.6 L954.6 457.0 L955.0 454.1 L955.5 451.5 L955.9 449.4 L956.4 450.5 L956.9 451.7 L957.4 449.5 L957.8 447.0 L958.2 443.5 L958.5 440.0 L958.9 452.0 L959.2 463.4 L959.6 470.5 L959.9 477.5 L960.3 470.5 L960.6 463.4 L961.0 457.5 L961.3 451.7 L961.8 455.0 L962.3 458.7 L962.9 462.5 L963.4 465.8 L964.0 470.5 L964.6 475.2 L965.2 481.0 L965.8 486.9 L966.4 491.5 L967.0 496.3 L967.5 500.0 L967.9 503.4 L968.4 507.0 L968.8 510.4 L969.3 517.5 L969.8 524.5 L970.2 527.0 L970.5 529.2 L970.9 526.0 L971.2 523.3 L971.7 521.5 L972.1 519.8 L972.6 512.5 L973.1 505.7 L973.6 508.0 L974.0 510.4 L974.5 514.0 L975.0 517.4 L975.4 514.0 L975.7 510.4 L976.2 503.5 L976.6 496.3 L977.1 491.5 L977.5 486.9 L978.0 491.5 L978.5 496.3 L979.0 502.0 L979.4 508.0 L979.8 510.5 L980.1 512.7 L980.5 505.5 L980.8 498.7 L981.3 490.5 L981.8 482.2 L982.3 476.0 L982.7 470.5 L983.2 465.5 L983.6 461.1 L984.1 457.5 L984.6 454.1 L985.2 449.5 L985.8 444.7 L986.4 438.5 L986.9 432.9 L987.5 428.0 L988.1 423.5 L988.7 420.0 L989.3 416.5 L989.9 414.0 L990.4 411.8 L990.8 415.0 L991.2 418.8 L991.7 424.0 L992.1 429.4 L992.6 428.0 L993.0 427.0 L993.5 426.5 L994.0 425.9 L994.6 425.3 L995.2 424.7 L995.8 423.0 L996.3 421.2 L996.9 419.0 L997.5 416.5 L997.9 410.5 L998.2 404.7 L998.7 407.0 L999.1 409.4 L999.6 413.0 L1000.1 416.5 L1000.6 419.0 L1001.0 421.2 L1001.5 422.5 L1002.0 423.5 L1002.3 420.0 L1002.5 400.0ZM1047.5 400.0 L1047.8 407.6 L1048.2 412.0 L1048.7 416.4 L1049.3 425.0 L1049.9 433.9 L1050.5 440.0 L1051.1 445.6 L1051.7 448.5 L1052.2 451.5 L1052.7 454.0 L1053.1 456.7 L1053.7 451.0 L1054.3 445.6 L1054.9 447.0 L1055.4 448.5 L1056.0 446.0 L1056.6 443.7 L1057.2 441.0 L1057.8 437.9 L1058.4 430.0 L1058.9 422.2 L1059.5 421.5 L1060.1 420.8 L1060.7 415.5 L1061.3 410.5 L1061.9 407.5 L1062.5 404.7 L1063.0 404.0 L1063.6 403.2 L1064.2 405.5 L1064.8 407.6 L1065.4 415.5 L1066.0 423.7 L1066.6 421.5 L1067.1 419.3 L1067.7 421.0 L1068.3 422.2 L1068.9 426.5 L1069.5 431.0 L1070.0 434.5 L1070.6 438.3 L1071.2 434.5 L1071.8 431.0 L1072.4 434.0 L1073.0 436.8 L1073.6 432.5 L1074.2 428.1 L1074.8 431.0 L1075.3 433.9 L1075.9 428.0 L1076.5 422.2 L1077.1 423.5 L1077.7 425.2 L1078.3 428.0 L1078.8 431.0 L1079.4 430.0 L1080.0 429.5 L1080.6 433.0 L1081.2 436.8 L1081.8 438.5 L1082.3 439.8 L1082.8 445.0 L1083.2 450.0 L1083.8 443.5 L1084.4 436.8 L1085.0 442.0 L1085.6 447.1 L1086.2 442.0 L1086.7 436.8 L1087.3 441.0 L1087.9 445.6 L1088.5 451.0 L1089.1 456.7 L1089.7 445.0 L1090.2 433.9 L1090.8 436.0 L1091.4 438.3 L1092.0 442.0 L1092.6 445.6 L1093.2 442.5 L1093.7 439.8 L1094.2 448.5 L1094.6 457.3 L1095.1 469.0 L1095.5 480.7 L1096.0 495.5 L1096.4 510.0 L1096.7 524.5 L1097.0 539.2 L1097.3 551.0 L1097.5 562.6 L1102.5 562.6 L1103.1 557.0 L1103.7 550.9 L1104.3 545.0 L1104.9 539.2 L1105.3 537.5 L1105.7 536.3 L1106.2 529.0 L1106.6 521.7 L1107.1 513.0 L1107.5 504.1 L1108.0 492.5 L1108.3 480.7 L1108.5 466.0 L1108.6 451.5 L1108.8 437.0 L1108.9 422.2 L1109.0 411.0 L1109.2 400.0Z" fill="#f86384" stroke="#f86384" stroke-width="0.4"/>
<line x1="58" y1="400.2" x2="1142" y2="400.2" stroke="#55556a" stroke-width="1.7"/>
<polyline points="58.5,390.6 80.0,391.0 120.0,390.8 150.0,390.6 168.0,391.2 176.0,392.0 181.0,392.4 186.0,392.0 193.0,391.0 205.0,390.6 240.0,390.5 270.0,390.8 305.0,391.5 322.0,391.1 348.0,391.5 364.0,391.1 368.0,391.3 370.7,392.0 373.0,393.2 376.0,394.6 378.5,395.5 381.0,395.9 400.0,396.0 500.0,396.0 600.0,396.0 700.0,396.0 800.0,396.1 888.5,396.2 890.0,396.6 892.0,397.4 894.8,398.2 900.0,398.3 1000.0,398.3 1110.3,398.3" fill="none" stroke="#f7931a" stroke-width="2.1" stroke-linejoin="round" opacity="0.9"/>
<g filter="url(#ga)">
<text x="286.87" y="37" font-size="21" font-weight="bold" text-anchor="start" fill="#2a2a2a" textLength="122.12" lengthAdjust="spacingAndGlyphs" stroke="#2a2a2a" stroke-width="0.9" stroke-linejoin="round">Long-Term</text>
<text x="416.91" y="37" font-size="21" font-weight="bold" text-anchor="start" fill="#2a2a2a" textLength="72.93" lengthAdjust="spacingAndGlyphs" stroke="#2a2a2a" stroke-width="0.9" stroke-linejoin="round">Holder</text>
<text x="497.81" y="37" font-size="21" font-weight="bold" text-anchor="start" fill="#2a2a2a" textLength="74.83" lengthAdjust="spacingAndGlyphs" stroke="#2a2a2a" stroke-width="0.9" stroke-linejoin="round">Supply</text>
<text x="580.84" y="37" font-size="21" font-weight="bold" text-anchor="start" fill="#2a2a2a" textLength="38.93" lengthAdjust="spacingAndGlyphs" stroke="#2a2a2a" stroke-width="0.9" stroke-linejoin="round">Net</text>
<text x="629.97" y="37" font-size="21" font-weight="bold" text-anchor="start" fill="#2a2a2a" textLength="87.37" lengthAdjust="spacingAndGlyphs" stroke="#2a2a2a" stroke-width="0.9" stroke-linejoin="round">Position</text>
<text x="724.58" y="37" font-size="21" font-weight="bold" text-anchor="start" fill="#2a2a2a" textLength="83.71" lengthAdjust="spacingAndGlyphs" stroke="#2a2a2a" stroke-width="0.9" stroke-linejoin="round">Change</text>
<text x="815.21" y="37" font-size="21" font-weight="bold" text-anchor="start" fill="#2a2a2a" textLength="99.56" lengthAdjust="spacingAndGlyphs" stroke="#2a2a2a" stroke-width="0.9" stroke-linejoin="round">(30-day)</text>
<line x1="388.4" y1="61" x2="407" y2="61" stroke="#111" stroke-width="1.6"/>
<text x="411" y="65" font-size="10.5" font-weight="bold" text-anchor="start" fill="#2a2a2a" textLength="59" lengthAdjust="spacingAndGlyphs" stroke="#2a2a2a" stroke-width="0.25">Price (USD)</text>
<rect x="476.2" y="59.3" width="19.5" height="4.7" fill="#4593ff"/><line x1="476.2" y1="59.5" x2="495.7" y2="59.5" stroke="#8f8a78" stroke-width="0.7" stroke-dasharray="1 1" opacity="0.8"/>
<text x="499" y="65" font-size="10.5" font-weight="bold" text-anchor="start" fill="#2a2a2a" textLength="102.6" lengthAdjust="spacingAndGlyphs" stroke="#2a2a2a" stroke-width="0.25">Positive 30d Change</text>
<rect x="608" y="59" width="19" height="5" fill="#f86384"/>
<text x="630.4" y="65" font-size="10.5" font-weight="bold" text-anchor="start" fill="#2a2a2a" textLength="108.2" lengthAdjust="spacingAndGlyphs" stroke="#2a2a2a" stroke-width="0.25">Negative 30d Change</text>
<line x1="745.4" y1="61" x2="764" y2="61" stroke="#f7931a" stroke-width="1.6"/>
<text x="767.6" y="65" font-size="10.5" font-weight="bold" text-anchor="start" fill="#2a2a2a" textLength="44" lengthAdjust="spacingAndGlyphs" stroke="#2a2a2a" stroke-width="0.25">Issuance</text>
<rect x="76.3" y="32.5" width="53" height="21" fill="#fff" stroke="#f5f5f5" stroke-width="1"/><line x1="76" y1="32.4" x2="129.6" y2="32.4" stroke="#e0e0e0" stroke-width="1"/>
<text x="82.9" y="45.3" font-size="8.5" font-weight="normal" text-anchor="start" fill="#444" textLength="28.8" lengthAdjust="spacingAndGlyphs">Info On</text>
<path d="M120.4 39.4h5.6l-2.8 5.8z" fill="#222"/>
<rect x="1063.2" y="32.5" width="78.8" height="21" fill="#fff" stroke="#f5f5f5" stroke-width="1"/>
<line x1="1063" y1="32.4" x2="1142.4" y2="32.4" stroke="#e0e0e0" stroke-width="1"/>
<text x="1069.8" y="45.3" font-size="8.5" font-weight="normal" text-anchor="start" fill="#444" textLength="50.5" lengthAdjust="spacingAndGlyphs">Default Zoom</text>
<path d="M1133 39.8h5.2l-2.6 5.4z" fill="#222"/>
<text x="53.2" y="122.5" font-size="10" font-weight="bold" text-anchor="end" fill="#000" stroke="#000" stroke-width="0.3">$100k</text>
<text x="53.2" y="270.5" font-size="10" font-weight="bold" text-anchor="end" fill="#000" stroke="#000" stroke-width="0.3">$10k</text>
<text x="53.2" y="418.5" font-size="10" font-weight="bold" text-anchor="end" fill="#000" stroke="#000" stroke-width="0.3">$1000</text>
<text x="53.2" y="566.5" font-size="10" font-weight="bold" text-anchor="end" fill="#000" stroke="#000" stroke-width="0.3">$100</text>
<text x="53.2" y="77.44756064173077" font-size="8.4" font-weight="bold" text-anchor="end" fill="#000" stroke="#000" stroke-width="0.3">2</text>
<text x="53.2" y="166.55243935826923" font-size="8.4" font-weight="bold" text-anchor="end" fill="#000" stroke="#000" stroke-width="0.3">5</text>
<text x="53.2" y="225.44756064173077" font-size="8.4" font-weight="bold" text-anchor="end" fill="#000" stroke="#000" stroke-width="0.3">2</text>
<text x="53.2" y="314.5524393582692" font-size="8.4" font-weight="bold" text-anchor="end" fill="#000" stroke="#000" stroke-width="0.3">5</text>
<text x="53.2" y="373.4475606417308" font-size="8.4" font-weight="bold" text-anchor="end" fill="#000" stroke="#000" stroke-width="0.3">2</text>
<text x="53.2" y="462.5524393582692" font-size="8.4" font-weight="bold" text-anchor="end" fill="#000" stroke="#000" stroke-width="0.3">5</text>
<text x="53.2" y="521.4475606417308" font-size="8.4" font-weight="bold" text-anchor="end" fill="#000" stroke="#000" stroke-width="0.3">2</text>
<text x="1146" y="78.7" font-size="10" font-weight="bold" text-anchor="start" fill="#000" stroke="#000" stroke-width="0.3">2M</text>
<text x="1146" y="160.075" font-size="10" font-weight="bold" text-anchor="start" fill="#000" stroke="#000" stroke-width="0.3">1.5M</text>
<text x="1146" y="241.45" font-size="10" font-weight="bold" text-anchor="start" fill="#000" stroke="#000" stroke-width="0.3">1M</text>
<text x="1146" y="322.825" font-size="10" font-weight="bold" text-anchor="start" fill="#000" stroke="#000" stroke-width="0.3">0.5M</text>
<text x="1146" y="404.2" font-size="10" font-weight="bold" text-anchor="start" fill="#000" stroke="#000" stroke-width="0.3">0</text>
<text x="1146" y="485.575" font-size="10" font-weight="bold" text-anchor="start" fill="#000" stroke="#000" stroke-width="0.3">−0.5M</text>
<text x="1146" y="566.95" font-size="10" font-weight="bold" text-anchor="start" fill="#000" stroke="#000" stroke-width="0.3">−1M</text>
<text x="58.6" y="578" font-size="10" font-weight="bold" text-anchor="middle" fill="#222">01-Jan-18</text>
<text x="190.0" y="578" font-size="10" font-weight="bold" text-anchor="middle" fill="#222">01-Jan-19</text>
<text x="321.5" y="578" font-size="10" font-weight="bold" text-anchor="middle" fill="#222">01-Jan-20</text>
<text x="452.9" y="578" font-size="10" font-weight="bold" text-anchor="middle" fill="#222">01-Jan-21</text>
<text x="584.4" y="578" font-size="10" font-weight="bold" text-anchor="middle" fill="#222">01-Jan-22</text>
<text x="715.9" y="578" font-size="10" font-weight="bold" text-anchor="middle" fill="#222">01-Jan-23</text>
<text x="847.3" y="578" font-size="10" font-weight="bold" text-anchor="middle" fill="#222">01-Jan-24</text>
<text x="978.7" y="578" font-size="10" font-weight="bold" text-anchor="middle" fill="#222">01-Jan-25</text>
<text x="1110.2" y="578" font-size="10" font-weight="bold" text-anchor="middle" fill="#222">01-Jan-26</text>
<text transform="translate(16.8,318.8) rotate(-90)" font-size="12" font-weight="bold" text-anchor="middle" fill="#000" textLength="66" lengthAdjust="spacingAndGlyphs">Price (USD)</text>
<text transform="translate(1192.6,319) rotate(-90)" font-size="12" font-weight="bold" text-anchor="middle" fill="#000" textLength="168.3" lengthAdjust="spacingAndGlyphs">Supply Change [BTC/30-days]</text>
</g>
</svg></body></html>
